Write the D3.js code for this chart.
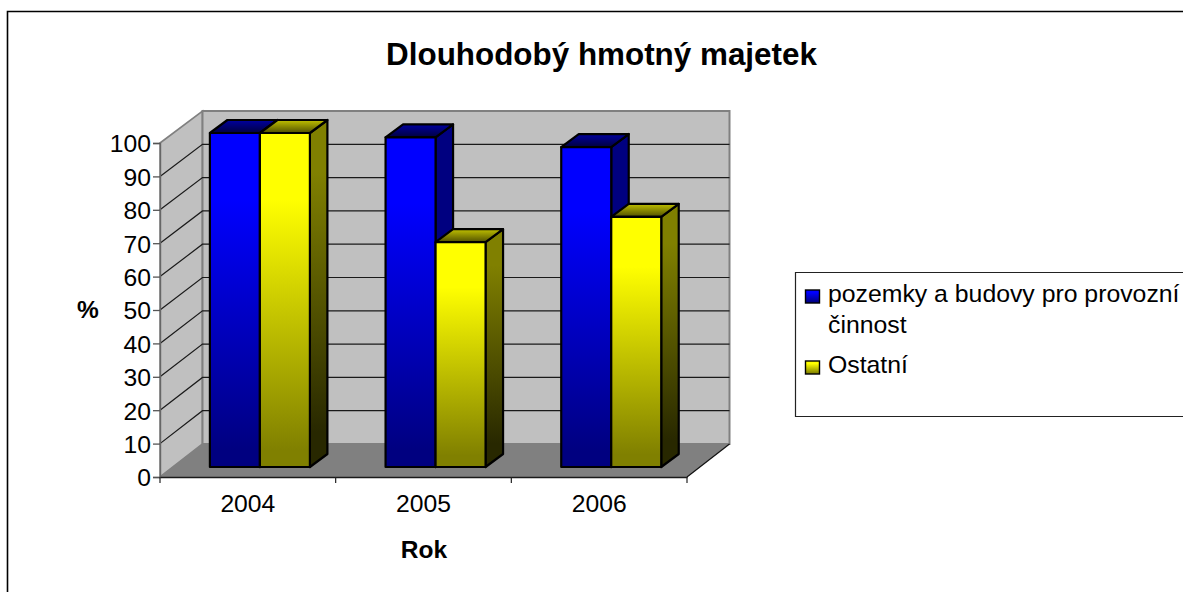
<!DOCTYPE html>
<html><head><meta charset="utf-8">
<script src="https://cdn.jsdelivr.net/npm/d3@7/dist/d3.min.js"></script>
<style>html,body{margin:0;padding:0;background:#fff}svg{display:block}text{font-family:"Liberation Sans",Arial,sans-serif;fill:#000}</style>
</head><body><svg id="c" width="1183" height="592"></svg>
<script>
const years = ["2004","2005","2006"];
const seriesNames = ["pozemky a budovy pro provozní činnost","Ostatní"];
const blueValues = [100,98.7,95.8];
const yellowValues = [100,67.3,74.9];
const yTicks = [0,10,20,30,40,50,60,70,80,90,100];
const titleText = "Dlouhodobý hmotný majetek";

const svg = d3.select("#c");
const defs = svg.append("defs");
function grad(id, stops){
  const g = defs.append("linearGradient").attr("id",id).attr("x1",0).attr("y1",0).attr("x2",0).attr("y2",1);
  stops.forEach(s=>g.append("stop").attr("offset",s[0]).attr("stop-color",s[1]));
}
grad("bf",[[0,"#0000ff"],[.2,"#0000ff"],[.95,"#000080"],[1,"#000080"]]);
grad("yf",[[0,"#ffff00"],[.2,"#ffff00"],[.95,"#808000"],[1,"#808000"]]);
grad("ys",[[0,"#808000"],[.15,"#808000"],[.9,"#282800"],[1,"#282800"]]);
grad("bs",[[0,"#000080"],[1,"#000080"]]);
grad("bt",[[0,"#0000a0"],[1,"#000040"]]);
grad("yt",[[0,"#c0c000"],[1,"#505000"]]);

// frame
svg.append("path").attr("d","M1183,11.5H7.5V592").attr("fill","none").attr("stroke","#000").attr("stroke-width",1.6);

svg.append("text").attr("x",601.5).attr("y",65).attr("text-anchor","middle")
  .attr("font-size",31.4).attr("font-weight","bold").text(titleText);

const yFront = d3.scaleLinear().domain([0,100]).range([477,143]);
const yBack  = d3.scaleLinear().domain([0,100]).range([444,111]);
const yBar   = d3.scaleLinear().domain([0,100]).range([467,133]);
const xBand  = d3.scaleBand().domain(years).range([160,687]);
const dx = 42.5;
const barInset = 49.9, barDX = 17.5, barDY = -13;
const xBar = d3.scaleBand().domain([0,1]).range([0,100]);
const poly = pts => "M"+pts.map(p=>p.join(",")).join("L")+"Z";

// walls
svg.append("path").attr("d",poly([[160,yFront(100)],[160+dx,yBack(100)],[160+dx,yBack(0)],[160,yFront(0)]]))
  .attr("fill","#c0c0c0").attr("stroke","#808080").attr("stroke-width",1.6);
svg.append("path").attr("d",poly([[160+dx,yBack(100)],[687+dx,yBack(100)],[687+dx,yBack(0)],[160+dx,yBack(0)]]))
  .attr("fill","#c0c0c0").attr("stroke","#808080").attr("stroke-width",2);
// gridlines
yTicks.filter(t=>t>0&&t<100).forEach(t=>{
  svg.append("path").attr("d",`M160,${yFront(t)}L${160+dx},${yBack(t)}L${687+dx},${yBack(t)}`)
    .attr("fill","none").attr("stroke","#1a1a1a").attr("stroke-width",1.2);
});
// floor
svg.append("path").attr("d",poly([[160,yFront(0)],[160+dx,yBack(0)],[687+dx,yBack(0)],[687,yFront(0)]]))
  .attr("fill","#808080");
svg.append("path").attr("d",`M687,${yFront(0)}L${687+dx},${yBack(0)}`).attr("stroke","#111").attr("stroke-width",1.2);

// bars
function bar(x,w,v,front,side,top){
  const y0=yBar(0), y1=yBar(v);
  const g=svg.append("g").attr("stroke","#000").attr("stroke-width",2.2).attr("stroke-linejoin","round");
  g.append("path").attr("d",poly([[x+w,y1],[x+w+barDX,y1+barDY],[x+w+barDX,y0+barDY],[x+w,y0]])).attr("fill",`url(#${side})`);
  g.append("path").attr("d",poly([[x,y1],[x+barDX,y1+barDY],[x+w+barDX,y1+barDY],[x+w,y1]])).attr("fill",`url(#${top})`);
  g.append("rect").attr("x",x).attr("y",y1).attr("width",w).attr("height",y0-y1).attr("fill",`url(#${front})`);
}
years.forEach((yr,i)=>{
  const x=xBand(yr)+barInset;
  bar(x+xBar(0),xBar.bandwidth(),blueValues[i],"bf","bs","bt");
  bar(x+xBar(1),xBar.bandwidth(),yellowValues[i],"yf","ys","yt");
});

// axes
const axisL = d3.axisLeft(yFront).tickValues(yTicks).tickSize(7).tickPadding(2).tickFormat(d3.format("d"));
const gy = svg.append("g").attr("transform","translate(160,0)").call(axisL);
gy.select(".domain").attr("stroke","#666").attr("stroke-width",1.4);
gy.selectAll(".tick line").attr("stroke","#555").attr("stroke-width",1.3);
gy.selectAll("text").attr("font-size",24.7).attr("font-family","Liberation Sans").attr("fill","#000").attr("dy","0.36em");

const axisB = d3.axisBottom(xBand).tickSize(0).tickPadding(17);
const gx = svg.append("g").attr("transform","translate(0,477)").call(axisB);
gx.select(".domain").attr("stroke","#1a1a1a").attr("stroke-width",1.6);
gx.selectAll("text").attr("font-size",24.7).attr("font-family","Liberation Sans").attr("fill","#000");
const tickPos = years.map(y=>xBand(y)).concat([xBand(years[2])+xBand.step()]);
gx.selectAll("line.sep").data(tickPos).join("line").attr("class","sep")
  .attr("x1",d=>d).attr("x2",d=>d).attr("y1",0).attr("y2",6).attr("stroke","#222").attr("stroke-width",1.2);

svg.append("text").attr("x",88).attr("y",318).attr("text-anchor","middle").attr("font-size",24.5).attr("font-weight","bold").text("%");
svg.append("text").attr("x",424).attr("y",558).attr("text-anchor","middle").attr("font-size",24.5).attr("font-weight","bold").text("Rok");

// legend
svg.append("path").attr("d","M1183,272.5H795.5V416.5H1183").attr("fill","#fff").attr("stroke","#222").attr("stroke-width",1.2);
const lg = svg.append("g");
[[290,"bf"],[361,"yf"]].forEach(d=>{
  lg.append("rect").attr("x",805.5).attr("y",d[0]).attr("width",14).attr("height",13)
    .attr("fill",`url(#${d[1]})`).attr("stroke","#000").attr("stroke-width",1.4);
});
const lw = seriesNames[0].split(" ");
const line1 = lw.slice(0,-1).join(" "), line2 = lw[lw.length-1];
[[line1,302],[line2,333],[seriesNames[1],373]].forEach(d=>{
  lg.append("text").attr("x",828).attr("y",d[1]).attr("font-size",24.8).text(d[0]);
});
</script></body></html>
